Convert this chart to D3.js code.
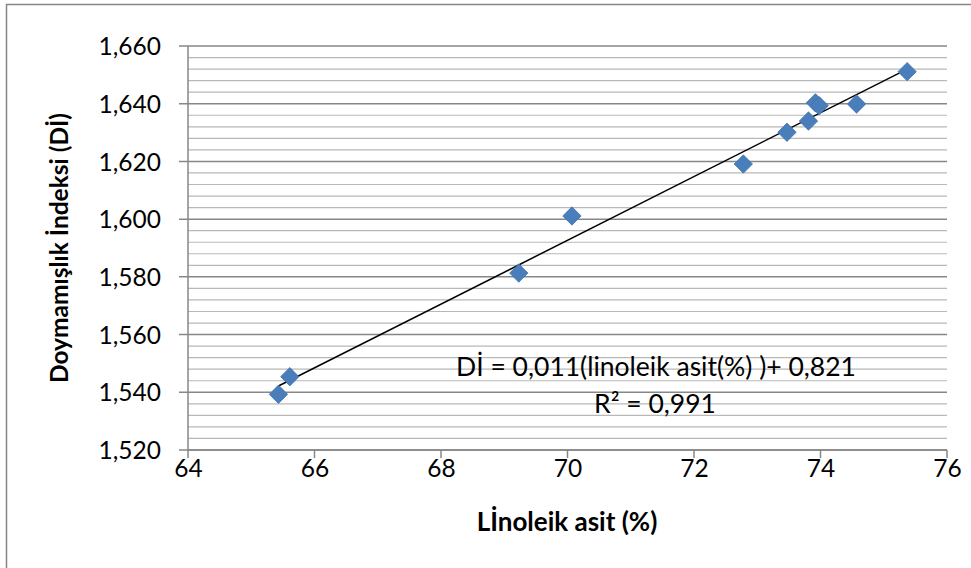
<!DOCTYPE html>
<html><head><meta charset="utf-8">
<script src="https://cdn.jsdelivr.net/npm/d3@7/dist/d3.min.js"></script>
<style>body{margin:0;background:#fff;}svg{display:block;}</style>
</head><body>
<svg id="c" width="971" height="568"></svg>
<script>
const linoleic = [65.43, 65.61, 69.23, 70.07, 72.78, 73.47, 73.81, 73.92, 73.98, 74.57, 75.37];
const di = [1.5393, 1.5454, 1.5813, 1.6011, 1.6191, 1.6301, 1.6340, 1.6403, 1.6393, 1.6399, 1.6511];
const xTicks = [64, 66, 68, 70, 72, 74, 76];
const yTicks = [1.520, 1.540, 1.560, 1.580, 1.600, 1.620, 1.640, 1.660];
const equationText = "Dİ = 0,011(linoleik asit(%) )+ 0,821";
const r2Text = "R² = 0,991";
const xTitle = "Lİnoleik asit (%)";
const yTitle = "Doymamışlık İndeksi (Dİ)";

const svg = d3.select("#c");
const L = 188, R = 947, T = 46, B = 450;
const x = d3.scaleLinear().domain([64, 76]).range([L, R]);
const y = d3.scaleLinear().domain([1.52, 1.66]).range([B, T]);
const font = "Lato, 'Open Sans', sans-serif";

// outer border
svg.append("rect").attr("x", 6.5).attr("y", 4.5).attr("width", 1000).attr("height", 600)
  .attr("fill", "none").attr("stroke", "#868686").attr("stroke-width", 1.5);

// minor gridlines
const minor = d3.range(0, 36).map(i => 1.52 + i * 0.004).filter((v, i) => i % 5 !== 0);
svg.append("g").selectAll("line").data(minor).join("line")
  .attr("x1", L).attr("x2", R).attr("y1", d => y(d)).attr("y2", d => y(d))
  .attr("stroke", "#b8b8b8").attr("stroke-width", 1.2);
// major gridlines
svg.append("g").selectAll("line").data(yTicks).join("line")
  .attr("x1", L - 9).attr("x2", R).attr("y1", d => y(d)).attr("y2", d => y(d))
  .attr("stroke", "#878787").attr("stroke-width", 1.5);

// axes lines
svg.append("line").attr("x1", L).attr("x2", L).attr("y1", T).attr("y2", B)
  .attr("stroke", "#878787").attr("stroke-width", 1.5);
svg.append("line").attr("x1", L).attr("x2", R).attr("y1", B).attr("y2", B)
  .attr("stroke", "#878787").attr("stroke-width", 1.5);
svg.append("g").selectAll("line").data(xTicks).join("line")
  .attr("x1", d => x(d)).attr("x2", d => x(d)).attr("y1", B).attr("y2", B + 8)
  .attr("stroke", "#878787").attr("stroke-width", 1.5);

// tick labels
const yAxis = d3.axisLeft(y).tickValues(yTicks).tickSize(0).tickPadding(0)
  .tickFormat(d => d3.format(".3f")(d).replace(".", ","));
const gy = svg.append("g").attr("transform", `translate(${L - 27},0)`).call(yAxis);
gy.select(".domain").remove();
gy.selectAll("text").attr("font-family", font).attr("font-size", 24.5).attr("fill", "#000").attr("dy", "0.35em");

const xAxis = d3.axisBottom(x).tickValues(xTicks).tickSize(0).tickPadding(0).tickFormat(d3.format("d"));
const gx = svg.append("g").attr("transform", `translate(0,${B + 9})`).call(xAxis);
gx.select(".domain").remove();
gx.selectAll("text").attr("font-family", font).attr("font-size", 24.5).attr("fill", "#000").attr("dy", "0.75em");

// regression line
const n = linoleic.length;
const mx = d3.mean(linoleic), my = d3.mean(di);
let sxy = 0, sxx = 0;
for (let i = 0; i < n; i++) { sxy += (linoleic[i] - mx) * (di[i] - my); sxx += (linoleic[i] - mx) ** 2; }
const slope = sxy / sxx, icpt = my - slope * mx;
const [x0, x1] = d3.extent(linoleic);
svg.append("line").attr("x1", x(x0)).attr("y1", y(icpt + slope * x0))
  .attr("x2", x(x1)).attr("y2", y(icpt + slope * x1))
  .attr("stroke", "#000").attr("stroke-width", 1.5);

// markers
const sym = d3.symbol().type(d3.symbolDiamond2).size(215);
svg.append("g").selectAll("path").data(linoleic).join("path")
  .attr("d", sym)
  .attr("transform", (d, i) => `translate(${x(d)},${y(di[i])})`)
  .attr("fill", "#4a7ebb").attr("stroke", "#3f72ad").attr("stroke-width", 0.8);

// equation
svg.append("text").attr("x", 656).attr("y", 376).attr("text-anchor", "middle")
  .attr("font-family", font).attr("font-size", 26.5).text(equationText);
svg.append("text").attr("x", 655).attr("y", 413).attr("text-anchor", "middle")
  .attr("font-family", font).attr("font-size", 26.5).text(r2Text);

// titles
svg.append("text").attr("x", 567).attr("y", 531).attr("text-anchor", "middle")
  .attr("font-family", font).attr("font-weight", "bold").attr("font-size", 26).text(xTitle);
svg.append("text").attr("transform", "translate(68,248) rotate(-90)").attr("text-anchor", "middle")
  .attr("font-family", font).attr("font-weight", "bold").attr("font-size", 24.5).text(yTitle);
</script>
</body></html>
